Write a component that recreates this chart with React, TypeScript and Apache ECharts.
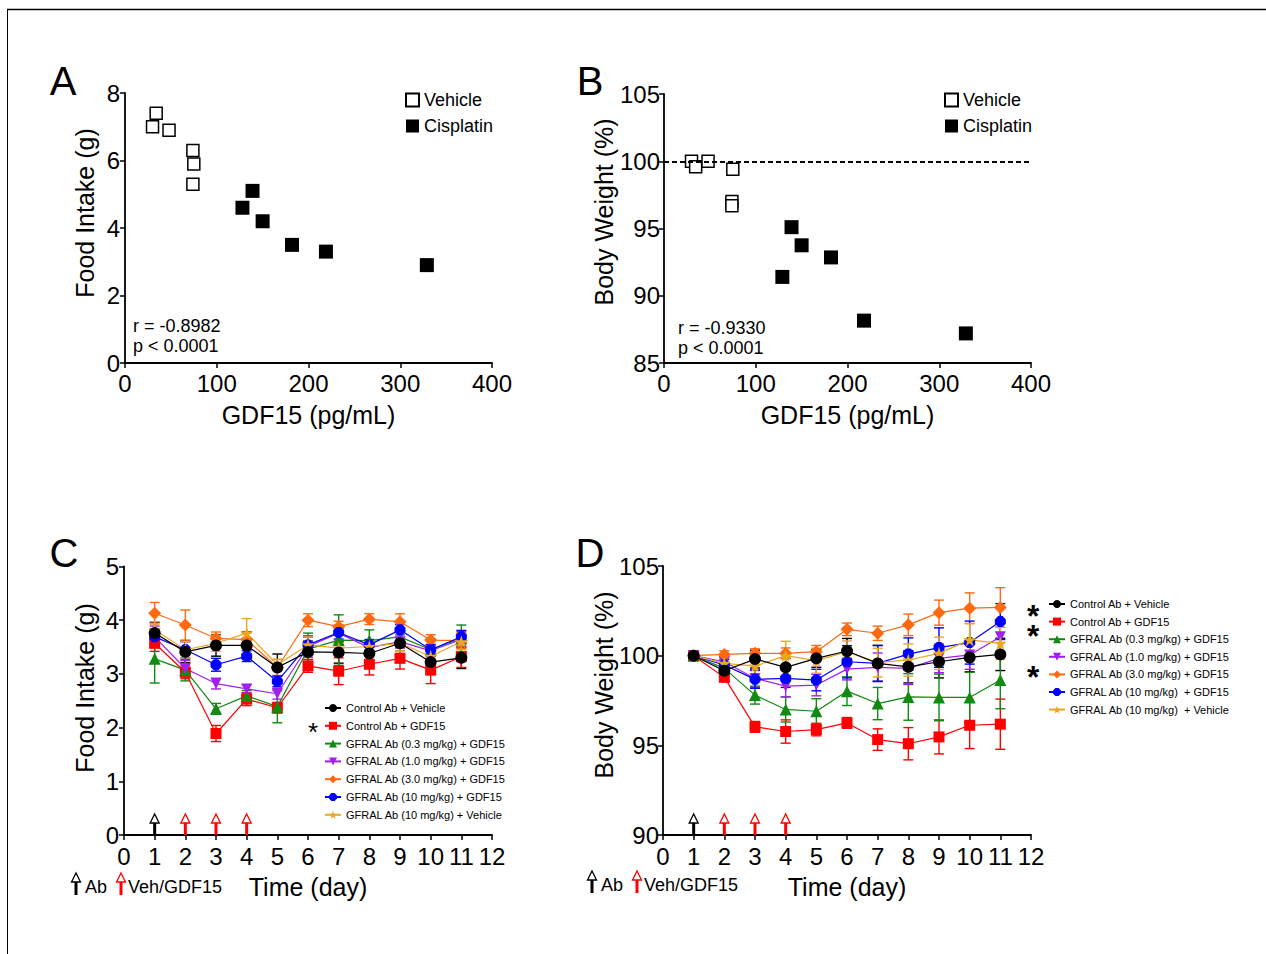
import React, { useEffect, useRef } from "react";
import * as echarts from "echarts";

const FONT = "'Liberation Sans', Arial, Helvetica, sans-serif";

// ---------- Panel A / B data ----------
const gdfVehicleA = [30, 34, 48, 74, 75, 74];
const foodVehicleA = [7.0, 7.4, 6.9, 6.3, 5.9, 5.3];
const gdfCisplatinA = [128, 139, 150, 182, 219, 329];
const foodCisplatinA = [4.6, 5.1, 4.2, 3.5, 3.3, 2.9];

const gdfVehicleB = [30, 34.5, 48, 75, 74, 74];
const bwVehicleB = [100.0, 99.6, 100.0, 99.4, 97.0, 96.7];
const gdfCisplatinB = [129, 139, 150, 182, 218, 329];
const bwCisplatinB = [91.4, 95.1, 93.75, 92.85, 88.15, 87.2];

// ---------- Panel C / D data ----------
const days = [1, 2, 3, 4, 5, 6, 7, 8, 9, 10, 11];
const abDays = [1];
const gdfDays = [2, 3, 4];

const groupNamesC = [
  "Control Ab + Vehicle",
  "Control Ab + GDF15",
  "GFRAL Ab (0.3 mg/kg) + GDF15",
  "GFRAL Ab (1.0 mg/kg) + GDF15",
  "GFRAL Ab (3.0 mg/kg) + GDF15",
  "GFRAL Ab (10 mg/kg) + GDF15",
  "GFRAL Ab (10 mg/kg) + Vehicle",
];
const groupNamesD = [
  "Control Ab + Vehicle ",
  "Control Ab + GDF15 ",
  "GFRAL Ab (0.3 mg/kg) + GDF15 ",
  "GFRAL Ab (1.0 mg/kg) + GDF15 ",
  "GFRAL Ab (3.0 mg/kg) + GDF15 ",
  "GFRAL Ab (10 mg/kg)  + GDF15 ",
  "GFRAL Ab (10 mg/kg)  + Vehicle ",
];

const foodMeans = [
  [3.76, 3.41, 3.53, 3.53, 3.12, 3.41, 3.4, 3.38, 3.57, 3.22, 3.3],
  [3.57, 3.03, 1.89, 2.53, 2.37, 3.15, 3.05, 3.18, 3.29, 3.07, 3.32],
  [3.28, 3.07, 2.35, 2.59, 2.39, 3.46, 3.63, 3.62, 3.69, 3.45, 3.66],
  [3.69, 3.1, 2.82, 2.72, 2.63, 3.51, 3.76, 3.49, 3.6, 3.43, 3.64],
  [4.13, 3.91, 3.66, 3.64, 3.12, 4.0, 3.88, 4.02, 3.97, 3.63, 3.62],
  [3.69, 3.45, 3.17, 3.33, 2.86, 3.54, 3.77, 3.54, 3.82, 3.45, 3.69],
  [3.82, 3.45, 3.57, 3.76, 3.17, 3.54, 3.48, 3.51, 3.57, 3.33, 3.6],
];
const foodErrors = [
  [0.2, 0.2, 0.2, 0.25, 0.25, 0.2, 0.2, 0.2, 0.15, 0.2, 0.2],
  [0.15, 0.12, 0.15, 0.12, 0.1, 0.12, 0.25, 0.2, 0.2, 0.25, 0.2],
  [0.45, 0.2, 0.1, 0.1, 0.3, 0.3, 0.47, 0.2, 0.15, 0.2, 0.25],
  [0.2, 0.15, 0.1, 0.08, 0.1, 0.2, 0.15, 0.1, 0.12, 0.1, 0.15],
  [0.2, 0.28, 0.12, 0.12, 0.15, 0.12, 0.1, 0.1, 0.15, 0.1, 0.15],
  [0.15, 0.15, 0.12, 0.1, 0.1, 0.15, 0.12, 0.1, 0.1, 0.1, 0.12],
  [0.15, 0.15, 0.15, 0.27, 0.1, 0.15, 0.1, 0.1, 0.15, 0.1, 0.15],
];

const bwMeans = [
  [100, 99.16, 99.81, 99.35, 99.85, 100.26, 99.57, 99.38, 99.66, 99.9, 100.07],
  [100, 98.79, 96.03, 95.77, 95.88, 96.25, 95.32, 95.09, 95.47, 96.12, 96.18],
  [100, 99.29, 97.8, 97.0, 96.9, 98.02, 97.33, 97.7, 97.67, 97.67, 98.64],
  [100, 99.66, 98.73, 98.3, 98.36, 99.25, 99.35, 99.29, 99.85, 100.04, 101.06],
  [100, 100.07, 100.13, 100.13, 100.22, 101.47, 101.25, 101.72, 102.4, 102.65, 102.69],
  [100, 99.48, 98.68, 98.73, 98.64, 99.66, 99.57, 100.09, 100.45, 100.73, 101.9],
  [100, 99.57, 99.42, 100, 99.72, 100.22, 99.61, 99.76, 100.13, 100.88, 100.69],
];
const bwErrors = [
  [0, 0.3, 0.5, 0.5, 0.5, 0.7, 1.0, 0.9, 0.9, 0.8, 0.9],
  [0, 0.2, 0.3, 0.65, 0.35, 0.3, 0.6, 0.9, 0.95, 1.3, 1.4],
  [0, 0.3, 0.5, 0.7, 0.7, 0.8, 0.9, 1.3, 1.3, 1.4, 1.6],
  [0, 0.3, 0.5, 0.6, 0.6, 0.6, 0.8, 0.9, 0.8, 0.8, 0.9],
  [0, 0.2, 0.25, 0.3, 0.35, 0.35, 0.4, 0.6, 0.7, 0.85, 1.1],
  [0, 0.3, 0.5, 0.5, 0.6, 0.9, 1.0, 0.9, 1.1, 1.2, 1.0],
  [0, 0.3, 0.5, 0.8, 0.7, 0.6, 0.8, 0.9, 0.9, 0.9, 0.9],
];

// ---------- styles ----------
const groupColors = ["#000000", "#ff0000", "#108a10", "#a020f0", "#ff6a10", "#0000ff", "#eaa820"];
const groupSymbols = [
  "circle",
  "rect",
  "triangle",
  "path://M0,0L10,0L5,9Z",
  "diamond",
  "path://M3,0L7,0L10,3L10,7L7,10L3,10L0,7L0,3Z",
  "path://M5,0L6.18,3.82L10,3.82L6.91,6.18L8.09,10L5,7.64L1.91,10L3.09,6.18L0,3.82L3.82,3.82Z",
];
const groupSymbolSizes = [12, 11, 12, 11, 13, 11, 13];

function errRender(color: string) {
  return (params: any, api: any) => {
    const x = api.value(0);
    const y = api.value(1);
    const e = api.value(2);
    if (!e) return { type: "group", children: [] };
    const p1 = api.coord([x, y + e]);
    const p2 = api.coord([x, y - e]);
    const hw = 5;
    const st = { stroke: color, lineWidth: 1.4 };
    return {
      type: "group",
      children: [
        { type: "line", shape: { x1: p1[0], y1: p1[1], x2: p2[0], y2: p2[1] }, style: st },
        { type: "line", shape: { x1: p1[0] - hw, y1: p1[1], x2: p1[0] + hw, y2: p1[1] }, style: st },
        { type: "line", shape: { x1: p2[0] - hw, y1: p2[1], x2: p2[0] + hw, y2: p2[1] }, style: st },
      ],
    };
  };
}

function arrowRender(color: string) {
  return (params: any, api: any) => {
    const p = api.coord([api.value(0), api.value(1)]);
    const x = p[0];
    const y = p[1];
    return {
      type: "group",
      children: [
        { type: "rect", shape: { x: x - 1.5, y: y - 12, width: 3, height: 12 }, style: { fill: color } },
        {
          type: "polygon",
          shape: { points: [[x - 4.5, y - 12], [x + 4.5, y - 12], [x, y - 21]] },
          style: { fill: "#fff", stroke: color, lineWidth: 1.3 },
        },
      ],
    };
  };
}

function arrowGlyph(x: number, yTip: number, color: string) {
  return {
    type: "group",
    children: [
      { type: "rect", shape: { x: x - 1.5, y: yTip + 9, width: 3, height: 13 }, style: { fill: color } },
      {
        type: "polygon",
        shape: { points: [[x - 4.5, yTip + 9], [x + 4.5, yTip + 9], [x, yTip]] },
        style: { fill: "#fff", stroke: color, lineWidth: 1.3 },
      },
    ],
  };
}

function txt(text: string, x: number, y: number, size: number, extra: any = {}) {
  const { align, weight, lineHeight, ...rest } = extra;
  return {
    type: "text",
    x,
    y,
    ...rest,
    style: {
      text,
      fill: "#000",
      font: `${weight || "normal"} ${size}px ${FONT}`,
      fontSize: size,
      fontWeight: weight || "normal",
      fontFamily: FONT,
      lineHeight: lineHeight || undefined,
      align: align || "left",
      verticalAlign: "middle",
      textAlign: align || "left",
      textVerticalAlign: "middle",
    },
  };
}

function vtitle(text: string, x: number, y: number) {
  return {
    type: "text",
    x,
    y,
    rotation: Math.PI / 2,
    style: {
      text,
      fill: "#000",
      font: `25px ${FONT}`,
      fontSize: 25,
      fontFamily: FONT,
      align: "center",
      verticalAlign: "middle",
      textAlign: "center",
      textVerticalAlign: "middle",
    },
  };
}

function axisCommon(extra: any, margin: number) {
  return {
    type: "value",
    splitLine: { show: false },
    axisLine: { show: true, onZero: false, lineStyle: { color: "#000", width: 1.8 } },
    axisTick: { show: true, length: 5, lineStyle: { color: "#000", width: 1.5 } },
    axisLabel: {
      color: "#000",
      fontSize: 24,
      fontFamily: FONT,
      margin,
      showMinLabel: true,
      showMaxLabel: true,
      hideOverlap: false,
    },
    nameTextStyle: { color: "#000", fontSize: 25, fontFamily: FONT },
    ...extra,
  };
}

export default function App() {
  const ref = useRef<HTMLDivElement>(null);

  useEffect(() => {
    if (!ref.current) return;
    const chart = echarts.init(ref.current, undefined, { renderer: "svg" });

    const grids = [
      { left: 125, top: 93, width: 367, height: 270 },
      { left: 664, top: 94, width: 367, height: 269 },
      { left: 124, top: 566.5, width: 368, height: 268.5 },
      { left: 663, top: 566, width: 368, height: 269 },
    ];

    const xAxes = [
      axisCommon({ gridIndex: 0, min: 0, max: 400, interval: 100, name: "GDF15 (pg/mL)", nameLocation: "middle", nameGap: 39 }, 8),
      axisCommon({ gridIndex: 1, min: 0, max: 400, interval: 100, name: "GDF15 (pg/mL)", nameLocation: "middle", nameGap: 39 }, 8),
      axisCommon({ gridIndex: 2, min: 0, max: 12, interval: 1, name: "Time (day)", nameLocation: "middle", nameGap: 39 }, 9),
      axisCommon({ gridIndex: 3, min: 0, max: 12, interval: 1, name: "Time (day)", nameLocation: "middle", nameGap: 39 }, 9),
    ];
    const yAxes = [
      axisCommon({ gridIndex: 0, min: 0, max: 8, interval: 2 }, 5),
      axisCommon({ gridIndex: 1, min: 85, max: 105, interval: 5 }, 4),
      axisCommon({ gridIndex: 2, min: 0, max: 5, interval: 1 }, 5),
      axisCommon({ gridIndex: 3, min: 90, max: 105, interval: 5 }, 4),
    ];

    const series: any[] = [];

    // Panel A
    series.push({
      name: "Vehicle",
      type: "scatter",
      xAxisIndex: 0,
      yAxisIndex: 0,
      symbol: "rect",
      symbolSize: 12,
      itemStyle: { color: "#fff", borderColor: "#000", borderWidth: 1.5, opacity: 1 },
      data: gdfVehicleA.map((g, i) => [g, foodVehicleA[i]]),
    });
    series.push({
      name: "Cisplatin",
      type: "scatter",
      xAxisIndex: 0,
      yAxisIndex: 0,
      symbol: "rect",
      symbolSize: 14,
      itemStyle: { color: "#000", opacity: 1 },
      data: gdfCisplatinA.map((g, i) => [g, foodCisplatinA[i]]),
    });
    // Panel B
    series.push({
      name: "Vehicle",
      type: "scatter",
      xAxisIndex: 1,
      yAxisIndex: 1,
      symbol: "rect",
      symbolSize: 12,
      z: 3,
      itemStyle: { color: "#fff", borderColor: "#000", borderWidth: 1.5, opacity: 1 },
      data: gdfVehicleB.map((g, i) => [g, bwVehicleB[i]]),
      markLine: {
        silent: true,
        symbol: "none",
        label: { show: false },
        lineStyle: { type: [5, 3], color: "#000", width: 2 },
        data: [{ yAxis: 100 }],
      },
    });
    series.push({
      name: "Cisplatin",
      type: "scatter",
      xAxisIndex: 1,
      yAxisIndex: 1,
      symbol: "rect",
      symbolSize: 14,
      itemStyle: { color: "#000", opacity: 1 },
      data: gdfCisplatinB.map((g, i) => [g, bwCisplatinB[i]]),
    });

    // Panels C / D
    const panels = [
      { axis: 2, names: groupNamesC, means: foodMeans, errs: foodErrors, base: 0 },
      { axis: 3, names: groupNamesD, means: bwMeans, errs: bwErrors, base: 90 },
    ];
    panels.forEach((p) => {
      p.names.forEach((name, gi) => {
        const color = groupColors[gi];
        series.push({
          name: name + "_err",
          type: "custom",
          xAxisIndex: p.axis,
          yAxisIndex: p.axis,
          z: 1,
          silent: true,
          encode: { x: 0, y: 1 },
          renderItem: errRender(color),
          data: days.map((d, i) => [d, p.means[gi][i], p.errs[gi][i]]),
        });
        series.push({
          name,
          type: "line",
          xAxisIndex: p.axis,
          yAxisIndex: p.axis,
          z: gi === 0 ? 4 : 3,
          symbol: groupSymbols[gi],
          symbolSize: groupSymbolSizes[gi],
          showAllSymbol: true,
          lineStyle: { color, width: 1.2 },
          itemStyle: { color },
          data: days.map((d, i) => [d, p.means[gi][i]]),
        });
      });
      series.push({
        name: "abArrows" + p.axis,
        type: "custom",
        xAxisIndex: p.axis,
        yAxisIndex: p.axis,
        z: 2,
        silent: true,
        encode: { x: 0, y: 1 },
        renderItem: arrowRender("#000"),
        data: abDays.map((d) => [d, p.base]),
      });
      series.push({
        name: "gdfArrows" + p.axis,
        type: "custom",
        xAxisIndex: p.axis,
        yAxisIndex: p.axis,
        z: 2,
        silent: true,
        encode: { x: 0, y: 1 },
        renderItem: arrowRender("#ff0000"),
        data: gdfDays.map((d) => [d, p.base]),
      });
    });

    const legendText = (size: number, lh: number) => ({ color: "#000", fontSize: size, fontFamily: FONT, lineHeight: lh });

    const legends = [
      {
        orient: "vertical", left: 400, top: 86, itemWidth: 13, itemHeight: 13, itemGap: 8,
        selectedMode: false, textStyle: legendText(18, 18), data: ["Vehicle", "Cisplatin"],
      },
      {
        orient: "vertical", left: 939, top: 86, itemWidth: 13, itemHeight: 13, itemGap: 8,
        selectedMode: false, textStyle: legendText(18, 18), data: ["Vehicle", "Cisplatin"],
      },
      {
        orient: "vertical", left: 319, top: 697, itemWidth: 16, itemHeight: 10, itemGap: 5.8,
        selectedMode: false, textStyle: legendText(11, 12), data: groupNamesC,
      },
      {
        orient: "vertical", left: 1043, top: 593, itemWidth: 16, itemHeight: 10, itemGap: 5.6,
        selectedMode: false, textStyle: legendText(11, 12), data: groupNamesD,
      },
    ];

    const graphic: any[] = [
      // frame
      { type: "line", shape: { x1: 7, y1: 9.5, x2: 1266, y2: 9.5 }, style: { stroke: "#000", lineWidth: 1.5 } },
      { type: "line", shape: { x1: 7.5, y1: 9, x2: 7.5, y2: 954 }, style: { stroke: "#000", lineWidth: 1 } },
      // panel letters
      txt("A", 63, 81, 40, { align: "center" }),
      txt("B", 590, 81, 40, { align: "center" }),
      txt("C", 64, 553, 40, { align: "center" }),
      txt("D", 590, 553, 40, { align: "center" }),
      // correlations
      txt("r = -0.8982", 133, 326, 18),
      txt("p < 0.0001", 133, 346, 18),
      txt("r = -0.9330", 678, 328, 18),
      txt("p < 0.0001", 678, 348, 18),
      // y titles
      vtitle("Food Intake (g)", 85, 213),
      vtitle("Body Weight (%)", 604, 212),
      vtitle("Food Intake (g)", 85, 688),
      vtitle("Body Weight (%)", 604, 685),
      // arrow keys
      arrowGlyph(76, 873, "#000"),
      txt("Ab", 85, 887, 18),
      arrowGlyph(121, 873, "#ff0000"),
      txt("Veh/GDF15", 128, 887, 18),
      arrowGlyph(592, 871, "#000"),
      txt("Ab", 601, 885, 18),
      arrowGlyph(637, 871, "#ff0000"),
      txt("Veh/GDF15", 644, 885, 18),
      // asterisks
      txt("*", 313, 732, 26, { align: "center", lineHeight: 12 }),
      txt("*", 1033, 616, 18, { align: "center", weight: "bold", lineHeight: 10, scaleX: 1.75, scaleY: 1.75 }),
      txt("*", 1033, 636, 18, { align: "center", weight: "bold", lineHeight: 10, scaleX: 1.75, scaleY: 1.75 }),
      txt("*", 1033, 677, 18, { align: "center", weight: "bold", lineHeight: 10, scaleX: 1.75, scaleY: 1.75 }),
    ];

    chart.setOption({
      animation: false,
      backgroundColor: "#fff",
      textStyle: { fontFamily: FONT },
      grid: grids,
      xAxis: xAxes,
      yAxis: yAxes,
      legend: legends,
      series,
      graphic,
    });

    return () => chart.dispose();
  }, []);

  return (
    <div
      ref={ref}
      style={{ position: "absolute", left: 0, top: 0, width: 1266, height: 954, background: "#fff" }}
    />
  );
}
